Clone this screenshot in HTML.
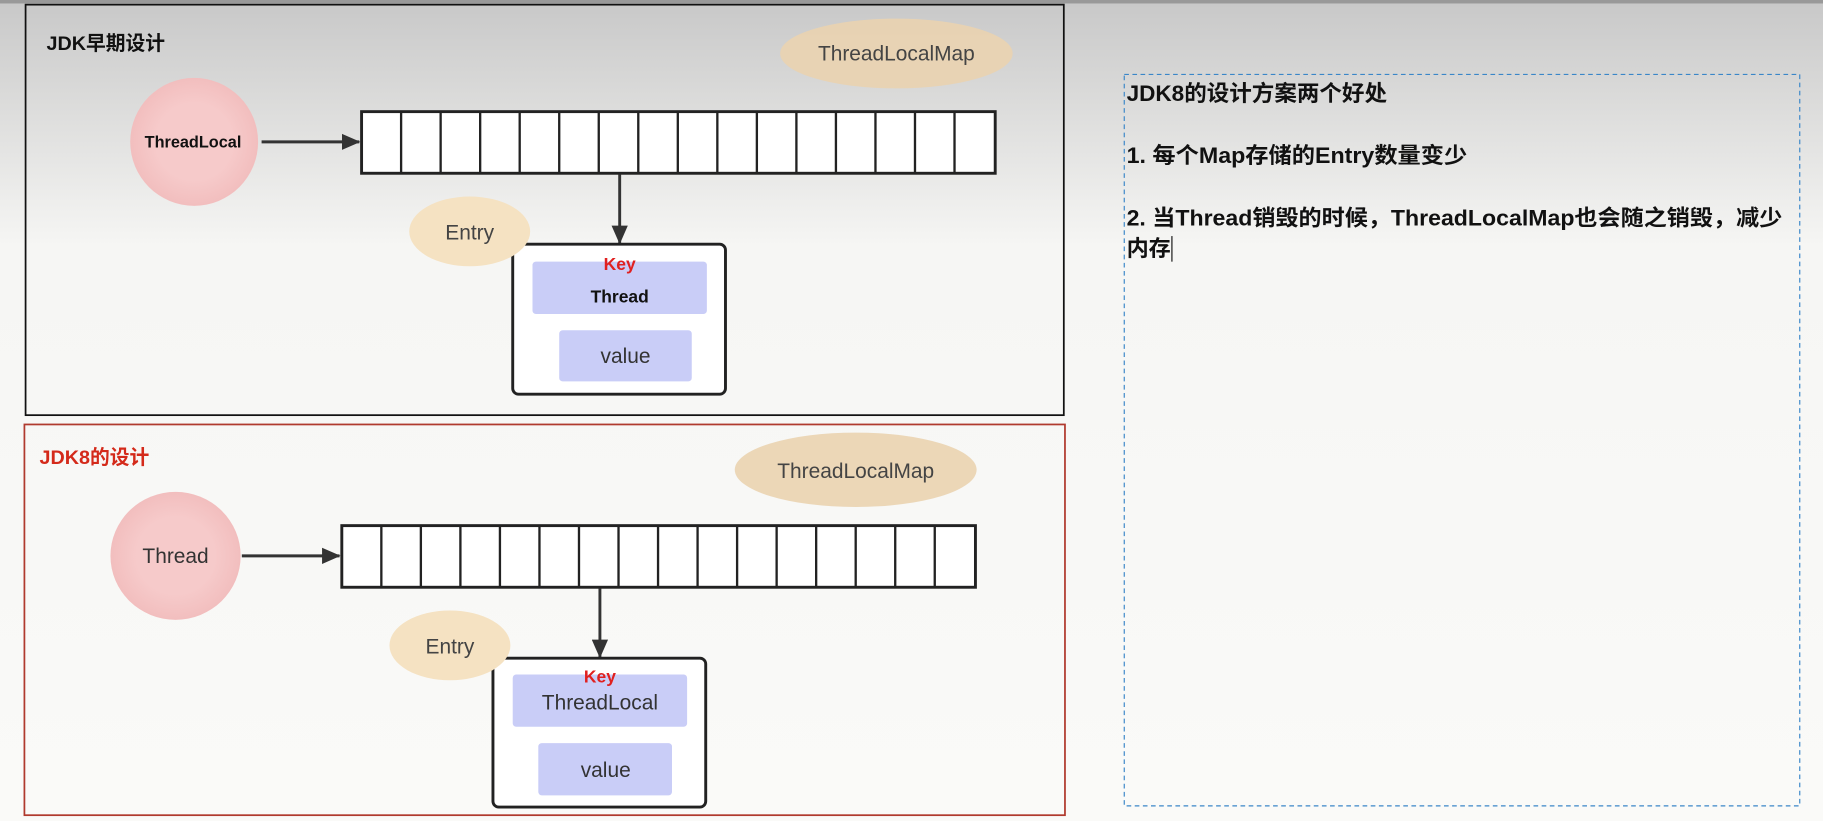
<!DOCTYPE html>
<html><head><meta charset="utf-8"><style>
html,body{margin:0;padding:0;width:1823px;height:821px;overflow:hidden;background:#fafaf8}
svg{display:block}
text{font-family:"Liberation Sans","Noto Sans CJK SC",sans-serif}
</style></head><body>
<svg width="1823" height="821" viewBox="0 0 1568 706" preserveAspectRatio="none">
<defs>
<linearGradient id="bg" x1="0" y1="0" x2="0" y2="1">
<stop offset="0" stop-color="#c8c8c8"/><stop offset="0.3" stop-color="#f6f6f4"/><stop offset="1" stop-color="#fafaf8"/>
</linearGradient>
<marker id="ah" markerWidth="16" markerHeight="14" refX="15" refY="7" orient="auto" markerUnits="userSpaceOnUse">
<path d="M0,0 L16,7 L0,14 z" fill="#333"/></marker>
<radialGradient id="cir"><stop offset="0.6" stop-color="#f6caca"/><stop offset="1" stop-color="#f2bebe"/></radialGradient>
</defs>
<rect width="1568" height="706" fill="url(#bg)"/>
<rect x="0" y="0" width="1568" height="3" fill="#999"/>
<!-- top panel -->
<rect x="22" y="4" width="893" height="353" fill="none" stroke="#111" stroke-width="1.5"/>
<text x="40" y="43" font-size="17" font-weight="bold" fill="#111">JDK早期设计</text>
<ellipse cx="771" cy="46" rx="100" ry="30" fill="#ead3b0" opacity="0.9"/>
<text x="771" y="52" font-size="18" fill="#444" text-anchor="middle">ThreadLocalMap</text>
<ellipse cx="167" cy="122" rx="55" ry="55" fill="url(#cir)"/>
<text x="166" y="127" font-size="14" font-weight="bold" fill="#111" text-anchor="middle">ThreadLocal</text>
<line x1="225" y1="122" x2="309" y2="122" stroke="#333" stroke-width="2.5" marker-end="url(#ah)"/>
<rect x="311" y="96" width="545" height="53" fill="#fff" stroke="#222" stroke-width="2.5"/>
<g stroke="#222" stroke-width="2">
<line x1="345" y1="96" x2="345" y2="149"/><line x1="379" y1="96" x2="379" y2="149"/><line x1="413" y1="96" x2="413" y2="149"/><line x1="447" y1="96" x2="447" y2="149"/><line x1="481" y1="96" x2="481" y2="149"/><line x1="515" y1="96" x2="515" y2="149"/><line x1="549" y1="96" x2="549" y2="149"/><line x1="583" y1="96" x2="583" y2="149"/><line x1="617" y1="96" x2="617" y2="149"/><line x1="651" y1="96" x2="651" y2="149"/><line x1="685" y1="96" x2="685" y2="149"/><line x1="719" y1="96" x2="719" y2="149"/><line x1="753" y1="96" x2="753" y2="149"/><line x1="787" y1="96" x2="787" y2="149"/><line x1="821" y1="96" x2="821" y2="149"/>
</g>
<line x1="533" y1="150" x2="533" y2="209" stroke="#333" stroke-width="2.5" marker-end="url(#ah)"/>
<rect x="441" y="210" width="183" height="129" rx="5" fill="#fff" stroke="#222" stroke-width="2.5"/>
<ellipse cx="404" cy="199" rx="52" ry="30" fill="#f5e2c2"/>
<text x="404" y="206" font-size="18" fill="#444" text-anchor="middle">Entry</text>
<rect x="458" y="225" width="150" height="45" rx="3" fill="#c9cdf7"/>
<text x="533" y="232" font-size="15" font-weight="bold" fill="#e02020" text-anchor="middle">Key</text>
<text x="533" y="260" font-size="15" font-weight="bold" fill="#111" text-anchor="middle">Thread</text>
<rect x="481" y="284" width="114" height="44" rx="3" fill="#c9cdf7"/>
<text x="538" y="312" font-size="18" fill="#333" text-anchor="middle">value</text>
<!-- bottom panel -->
<rect x="21" y="365" width="895" height="336" fill="none" stroke="#b03a2e" stroke-width="1.5"/>
<text x="34" y="399" font-size="17" font-weight="bold" fill="#d42a1a">JDK8的设计</text>
<ellipse cx="736" cy="404" rx="104" ry="32" fill="#ead3b0" opacity="0.9"/>
<text x="736" y="411" font-size="18" fill="#444" text-anchor="middle">ThreadLocalMap</text>
<ellipse cx="151" cy="478" rx="56" ry="55" fill="url(#cir)"/>
<text x="151" y="484" font-size="18" fill="#333" text-anchor="middle">Thread</text>
<line x1="208" y1="478" x2="292" y2="478" stroke="#333" stroke-width="2.5" marker-end="url(#ah)"/>
<rect x="294" y="452" width="545" height="53" fill="#fff" stroke="#222" stroke-width="2.5"/>
<g transform="translate(-17,356)" stroke="#222" stroke-width="2">
<line x1="345" y1="96" x2="345" y2="149"/><line x1="379" y1="96" x2="379" y2="149"/><line x1="413" y1="96" x2="413" y2="149"/><line x1="447" y1="96" x2="447" y2="149"/><line x1="481" y1="96" x2="481" y2="149"/><line x1="515" y1="96" x2="515" y2="149"/><line x1="549" y1="96" x2="549" y2="149"/><line x1="583" y1="96" x2="583" y2="149"/><line x1="617" y1="96" x2="617" y2="149"/><line x1="651" y1="96" x2="651" y2="149"/><line x1="685" y1="96" x2="685" y2="149"/><line x1="719" y1="96" x2="719" y2="149"/><line x1="753" y1="96" x2="753" y2="149"/><line x1="787" y1="96" x2="787" y2="149"/><line x1="821" y1="96" x2="821" y2="149"/>
</g>
<line x1="516" y1="506" x2="516" y2="565" stroke="#333" stroke-width="2.5" marker-end="url(#ah)"/>
<rect x="424" y="566" width="183" height="128" rx="5" fill="#fff" stroke="#222" stroke-width="2.5"/>
<ellipse cx="387" cy="555" rx="52" ry="30" fill="#f5e2c2"/>
<text x="387" y="562" font-size="18" fill="#444" text-anchor="middle">Entry</text>
<rect x="441" y="580" width="150" height="45" rx="3" fill="#c9cdf7"/>
<text x="516" y="587" font-size="15" font-weight="bold" fill="#e02020" text-anchor="middle">Key</text>
<text x="516" y="610" font-size="18" fill="#333" text-anchor="middle">ThreadLocal</text>
<rect x="463" y="639" width="115" height="45" rx="3" fill="#c9cdf7"/>
<text x="521" y="668" font-size="18" fill="#333" text-anchor="middle">value</text>
<!-- right text box -->
<rect x="967" y="64" width="581" height="629" fill="none" stroke="#3a86c8" stroke-width="1" stroke-dasharray="4,3"/>
<g font-size="19" font-weight="bold" fill="#111">
<text x="969" y="87" textLength="224" lengthAdjust="spacingAndGlyphs">JDK8的设计方案两个好处</text>
<text x="969" y="140" textLength="293" lengthAdjust="spacingAndGlyphs">1. 每个Map存储的Entry数量变少</text>
<text x="969" y="194" textLength="564" lengthAdjust="spacingAndGlyphs">2. 当Thread销毁的时候，ThreadLocalMap也会随之销毁，减少</text>
<text x="969" y="220" textLength="38" lengthAdjust="spacingAndGlyphs">内存</text>
</g>
<line x1="1008" y1="203" x2="1008" y2="225" stroke="#111" stroke-width="1"/>
</svg>
</body></html>
